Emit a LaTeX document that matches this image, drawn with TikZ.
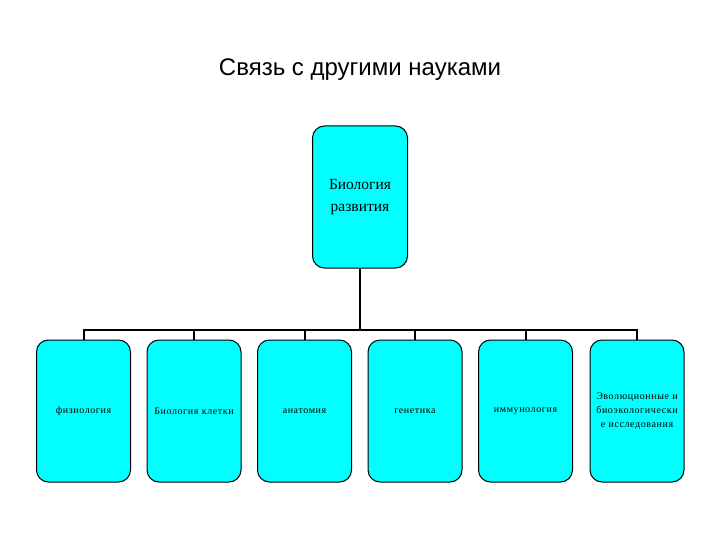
\documentclass[tikz,border=0pt]{standalone}
\usepackage{fontspec}
\setmainfont{Liberation Serif}
\newfontfamily\titlefont{Liberation Sans}
\newfontfamily\boxfont[LetterSpace=6]{Liberation Serif}
\definecolor{boxcyan}{HTML}{00FFFF}
\tikzset{
  sci/.style={draw=black, line width=1pt, fill=boxcyan, rounded corners=12pt,
    minimum width=94pt, minimum height=142pt, inner sep=1pt,
    text width=92pt, align=center, font=\boxfont\fontsize{10}{14}\selectfont},
  link/.style={draw=black, line width=2pt},
}
\begin{document}
\begin{tikzpicture}[x=1pt,y=-1pt]
\useasboundingbox (0,0) rectangle (720,540);
\node[font=\titlefont\fontsize{24}{28}\selectfont] (title) at (360,70) {Связь с другими науками};
\node[sci, minimum width=95pt, font=\fontsize{15.5}{22}\selectfont] (top) at (360,197) {Биология\\развития};
\node[sci] (b1) at (83.5,411) {физиология};
\node[sci] (b2) at (194,411) {Биология клетки};
\node[sci] (b3) at (304.5,411) {анатомия};
\node[sci] (b4) at (415,411) {генетика};
\node[sci] (b5) at (525.5,411) {иммунология};
\node[sci] (b6) at (637,411) {Эволюционные и\\биоэкологически\\е исследования};
\coordinate (bar) at (360,330);
\draw[link] (top.south) -- (bar);
\foreach \b in {b1,b2,b3,b4,b5,b6} { \draw[link] (bar) -| (\b.north); }
\end{tikzpicture}
\end{document}
